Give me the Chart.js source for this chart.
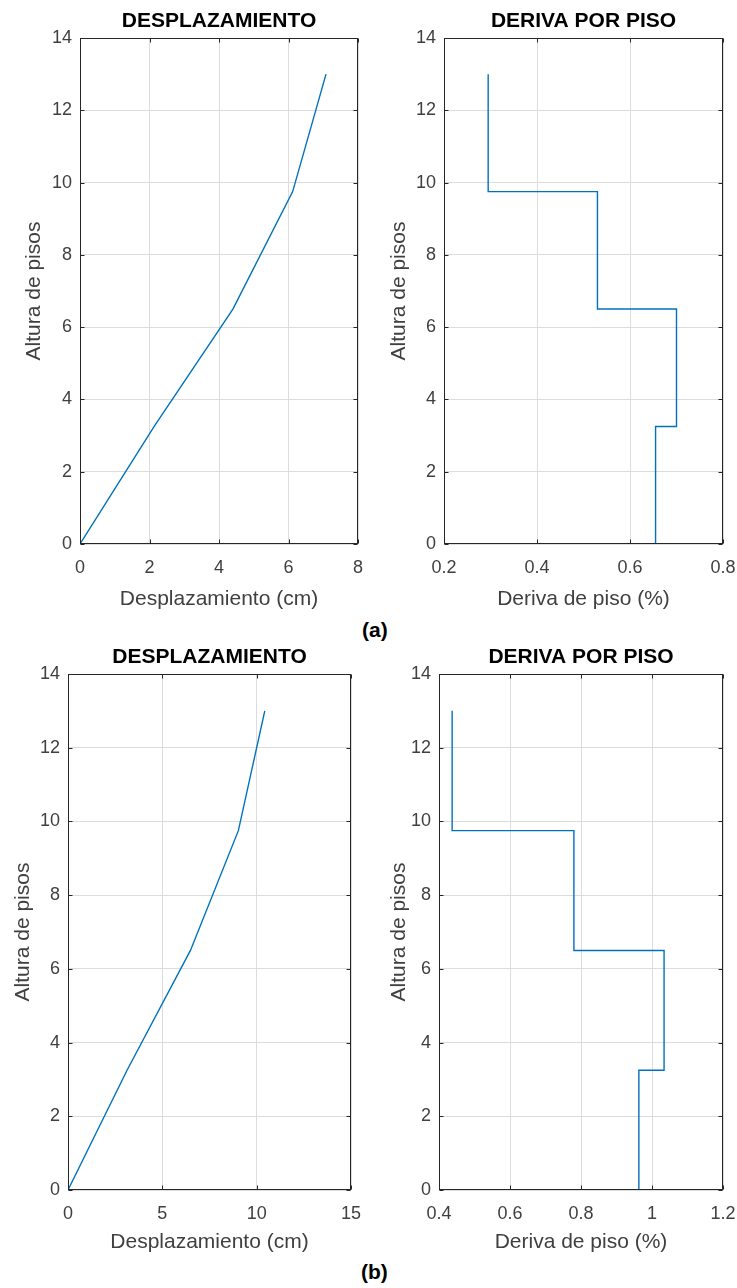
<!DOCTYPE html>
<html>
<head>
<meta charset="utf-8">
<script src="https://cdn.jsdelivr.net/npm/chart.js@4.4.1/dist/chart.umd.min.js"></script>
<style>
  body { margin: 0; background: #fff; width: 737px; height: 1288px; position: relative; overflow: hidden; }
  .panel { position: absolute; }
  .tag { position: absolute; font: bold 21px "Liberation Sans", Arial, sans-serif; color: #000; line-height: 24px; }
</style>
</head>
<body>
<div class="panel" style="left:0;top:0"><canvas id="despA" width="370" height="615"></canvas></div>
<div class="panel" style="left:370px;top:0"><canvas id="derivaA" width="367" height="615"></canvas></div>
<div class="tag" style="left:362px;top:618px">(a)</div>
<div class="panel" style="left:0;top:636px"><canvas id="despB" width="370" height="622"></canvas></div>
<div class="panel" style="left:370px;top:636px"><canvas id="derivaB" width="367" height="622"></canvas></div>
<div class="tag" style="left:361px;top:1260px">(b)</div>

<script>
// alturas de entrepiso (m)
const alturas = [0, 3.25, 6.5, 9.75, 13];

// caso (a)
const despA = [0, 2.13, 4.40, 6.12, 7.08];
const derivaA = [0.655, 0.70, 0.53, 0.295];

// caso (b)
const despB = [0, 3.13, 6.49, 9.03, 10.43];
const derivaB = [0.963, 1.034, 0.78, 0.437];

const yTicks = [0, 2, 4, 6, 8, 10, 12, 14];

Chart.defaults.font.family = '"Liberation Sans", Arial, sans-serif';
Chart.defaults.color = '#404040';

const azul = '#0072BD';
const gris = '#dcdcdc';
const eje = '#262626';

function perfil(desp) {
  return desp.map((d, i) => ({ x: d, y: alturas[i] }));
}

function escalones(deriva) {
  const pts = [];
  deriva.forEach((d, i) => {
    pts.push({ x: d, y: alturas[i] });
    pts.push({ x: d, y: alturas[i + 1] });
  });
  return pts;
}

// etiquetas como MATLAB: 1 en vez de 1.0
const etiqueta = v => String(Number(v.toFixed(2)));

// caja y marcas hacia adentro, estilo MATLAB
const marco = {
  id: 'marco',
  afterDraw(chart) {
    const { ctx, chartArea: a, scales } = chart;
    const l = Math.round(a.left) + 0.5, r = Math.round(a.right) - 0.5;
    const t = Math.round(a.top) + 0.5, b = Math.round(a.bottom) - 0.5;
    ctx.save();
    ctx.strokeStyle = eje;
    ctx.lineWidth = 1;
    ctx.strokeRect(l, t, r - l, b - t);
    ctx.beginPath();
    scales.x.ticks.forEach(tk => {
      const px = Math.round(scales.x.getPixelForValue(tk.value)) + 0.5;
      ctx.moveTo(px, b); ctx.lineTo(px, b - 4);
      ctx.moveTo(px, t); ctx.lineTo(px, t + 4);
    });
    scales.y.ticks.forEach(tk => {
      const py = Math.round(scales.y.getPixelForValue(tk.value)) + 0.5;
      ctx.moveTo(l, py); ctx.lineTo(l + 4, py);
      ctx.moveTo(r, py); ctx.lineTo(r - 4, py);
    });
    ctx.stroke();
    ctx.restore();
  }
};

function crear(id, titulo, puntos, xMin, xMax, xPaso, xLabel, caja) {
  new Chart(document.getElementById(id), {
    type: 'scatter',
    data: {
      datasets: [{
        data: puntos,
        showLine: true,
        borderColor: azul,
        borderWidth: 1.4,
        pointRadius: 0,
        tension: 0
      }]
    },
    options: {
      responsive: false,
      animation: false,
      layout: { padding: { left: 0, right: caja.right, top: 0, bottom: 0 } },
      plugins: {
        legend: { display: false },
        tooltip: { enabled: false },
        title: {
          display: true,
          fullSize: false,
          text: titulo,
          color: '#000',
          font: { size: 21, weight: 'bold' },
          padding: { top: 9, bottom: 3.8 }
        }
      },
      scales: {
        x: {
          type: 'linear',
          min: xMin,
          max: xMax,
          ticks: { stepSize: xPaso, font: { size: 18 }, padding: 0, callback: etiqueta },
          // marca invisible: solo separa las etiquetas del eje
          grid: { color: gris, drawTicks: true, tickLength: 13, tickColor: 'rgba(0,0,0,0)' },
          border: { display: false },
          title: { display: true, text: xLabel, font: { size: 21 }, padding: { top: 0, bottom: 3 } },
          afterFit: s => { s.height = caja.xH; }
        },
        y: {
          type: 'linear',
          min: 0,
          max: 14,
          afterBuildTicks: s => { s.ticks = yTicks.map(v => ({ value: v })); },
          ticks: { font: { size: 18 }, padding: 8, callback: etiqueta },
          grid: { color: gris, drawTicks: false },
          border: { display: false },
          title: { display: true, text: 'Altura de pisos', font: { size: 21 }, padding: { top: caja.yT, bottom: 0 } },
          afterFit: s => { s.width = caja.left; }
        }
      }
    },
    plugins: [marco]
  });
}

crear('despA', 'DESPLAZAMIENTO', perfil(despA), 0, 8, 2, 'Desplazamiento (cm)',
  { left: 80, right: 12, xH: 71, yT: 22 });
crear('derivaA', 'DERIVA POR PISO', escalones(derivaA), 0.2, 0.8, 0.2, 'Deriva de piso (%)',
  { left: 74, right: 14, xH: 71, yT: 17 });
crear('despB', 'DESPLAZAMIENTO', perfil(despB), 0, 15, 5, 'Desplazamiento (cm)',
  { left: 68, right: 19, xH: 68, yT: 11 });
crear('derivaB', 'DERIVA POR PISO', escalones(derivaB), 0.4, 1.2, 0.2, 'Deriva de piso (%)',
  { left: 69, right: 14, xH: 68, yT: 17 });
</script>
</body>
</html>
